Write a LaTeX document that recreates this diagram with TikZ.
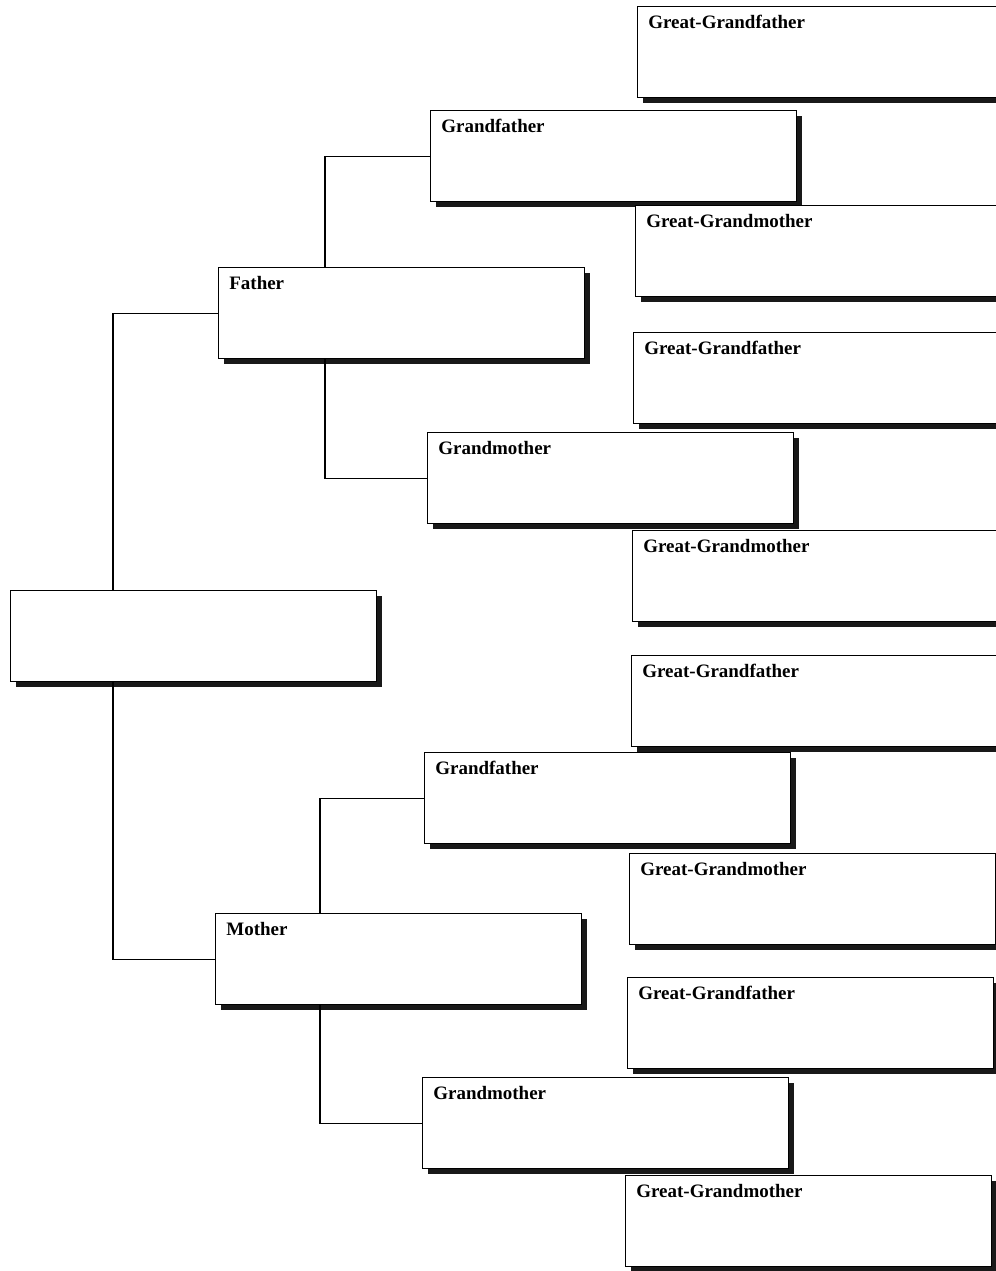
\documentclass[tikz,border=0pt]{standalone}
\usepackage{fontspec}
\setmainfont{Liberation Serif}
\usetikzlibrary{positioning,shadows}

\begin{document}
\begin{tikzpicture}[
        x=0.02cm, y=-0.02cm,
        person/.style={rectangle, draw, line width=0.8pt, fill=white, anchor=north west, inner sep=0pt,
            minimum width=7.32cm, minimum height=1.82cm,
            drop shadow={shadow xshift=0.11cm, shadow yshift=-0.11cm, fill=black!90, opacity=1}},
        who/.style={font=\bfseries\fontsize{10.8}{12}\selectfont, inner sep=0pt},
        link/.style={line width=0.6pt}
    ]
        \useasboundingbox[fill=white] (0,0) rectangle (995,1271);

        % Father's side
        \node[person] (ggf1) at (637,6) {};
        \node[person] (gf1) at (430,110) {};
        \node[person] (ggm1) at (635,205) {};
        \node[person] (father) at (218,267) {};
        \node[person] (ggf2) at (633,332) {};
        \node[person] (gm1) at (427,432) {};
        \node[person] (ggm2) at (632,530) {};

        % You
        \node[person] (you) at (10,590) {};

        % Mother's side
        \node[person] (ggf3) at (631,655) {};
        \node[person] (gf2) at (424,752) {};
        \node[person] (ggm3) at (629,853) {};
        \node[person] (mother) at (215,913) {};
        \node[person] (ggf4) at (627,977) {};
        \node[person] (gm2) at (422,1077) {};
        \node[person] (ggm4) at (625,1175) {};

        % Names in the upper left corner of each box
        \node[who, below right=0.18cm and 0.22cm of ggf1.north west] {Great-Grandfather};
        \node[who, below right=0.18cm and 0.22cm of gf1.north west] {Grandfather};
        \node[who, below right=0.18cm and 0.22cm of ggm1.north west] {Great-Grandmother};
        \node[who, below right=0.18cm and 0.22cm of father.north west] {Father};
        \node[who, below right=0.18cm and 0.22cm of ggf2.north west] {Great-Grandfather};
        \node[who, below right=0.18cm and 0.22cm of gm1.north west] {Grandmother};
        \node[who, below right=0.18cm and 0.22cm of ggm2.north west] {Great-Grandmother};
        \node[who, below right=0.18cm and 0.22cm of ggf3.north west] {Great-Grandfather};
        \node[who, below right=0.18cm and 0.22cm of gf2.north west] {Grandfather};
        \node[who, below right=0.18cm and 0.22cm of ggm3.north west] {Great-Grandmother};
        \node[who, below right=0.18cm and 0.22cm of mother.north west] {Mother};
        \node[who, below right=0.18cm and 0.22cm of ggf4.north west] {Great-Grandfather};
        \node[who, below right=0.18cm and 0.22cm of gm2.north west] {Grandmother};
        \node[who, below right=0.18cm and 0.22cm of ggm4.north west] {Great-Grandmother};

        % Connections
        \draw[link] ([xshift=2.06cm]you.north west) |- (father.west);
        \draw[link] ([xshift=2.06cm]you.south west) |- (mother.west);
        \draw[link] ([xshift=2.14cm]father.north west) |- (gf1.west);
        \draw[link] ([xshift=2.14cm]father.south west) |- (gm1.west);
        \draw[link] ([xshift=2.1cm]mother.north west) |- (gf2.west);
        \draw[link] ([xshift=2.1cm]mother.south west) |- (gm2.west);
    \end{tikzpicture}
\end{document}
